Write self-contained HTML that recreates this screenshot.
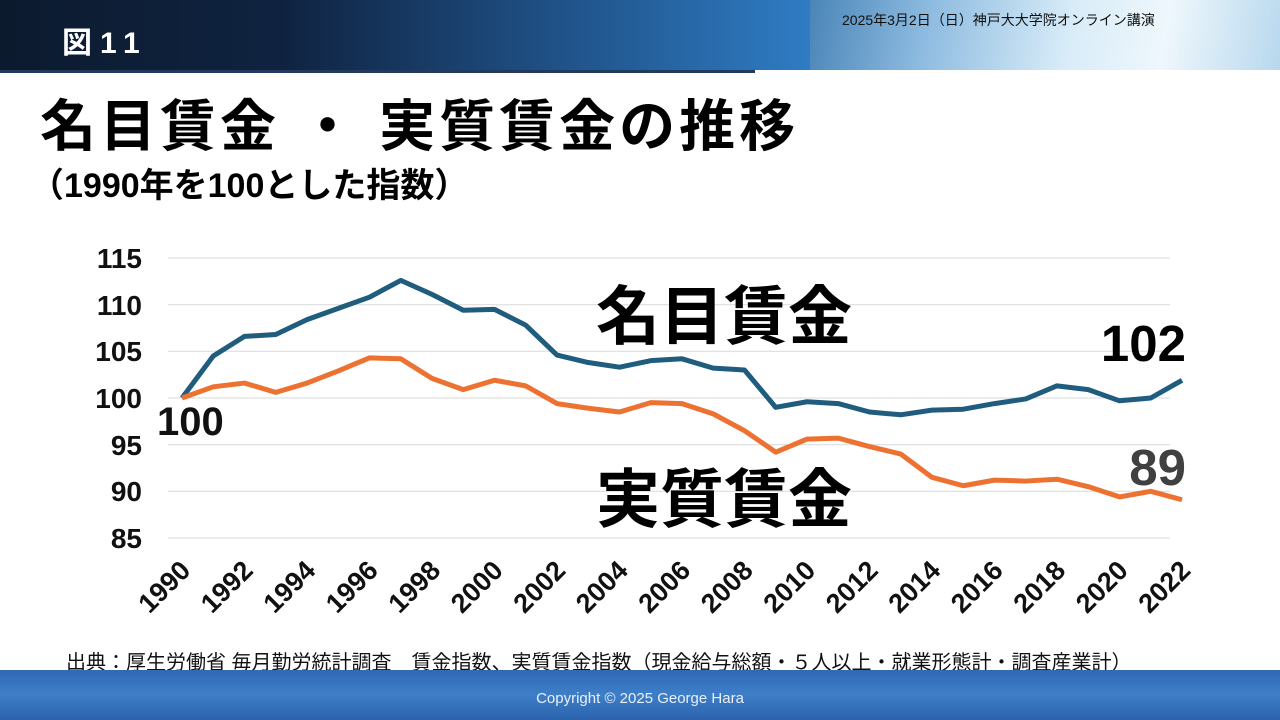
<!DOCTYPE html>
<html><head><meta charset="utf-8"><style>
body{margin:0;width:1280px;height:720px;overflow:hidden;background:#fff;font-family:"Liberation Sans","Noto Sans CJK JP",sans-serif;position:relative}
.hdr{position:absolute;left:0;top:0;width:810px;height:70px;background:linear-gradient(90deg,#0c1a2e 0%,#0f2340 35%,#1e4c80 65%,#2f7cc4 100%)}
.hdr2{position:absolute;left:810px;top:0;width:470px;height:70px;background:linear-gradient(100deg,#4a85b8 0%,#8dbbe0 25%,#d8ecf8 55%,#eef7fc 75%,#b8d8ee 100%)}
.t{position:absolute;font-weight:bold;color:#000;white-space:nowrap}
.foot{position:absolute;left:0;top:670px;width:1280px;height:50px;background:linear-gradient(180deg,#2f69b5,#3f7fc8 50%,#2b62ad)}
</style></head><body>
<div class="hdr"></div><div class="hdr2"></div>
<div style="position:absolute;left:0;top:70px;width:755px;height:3px;background:#223a5c"></div>
<div class="t" style="left:62px;top:18px;font-size:30px;color:#fff;letter-spacing:8px">図11</div>
<div style="position:absolute;left:842px;top:10px;font-size:14px;color:#111">2025年3月2日（日）神戸大大学院オンライン講演</div>
<div class="t" style="left:40px;top:82px;font-size:56px;letter-spacing:4px">名目賃金 ・ 実質賃金の推移</div>
<div class="t" style="left:30px;top:158px;font-size:34px">（1990年を100とした指数）</div>
<svg width="1280" height="720" style="position:absolute;left:0;top:0" font-family="Liberation Sans, Noto Sans CJK JP, sans-serif" font-weight="bold">
<g stroke="#d9d9d9" stroke-width="1">
<line x1="168" x2="1170" y1="258" y2="258"/><line x1="168" x2="1170" y1="304.7" y2="304.7"/><line x1="168" x2="1170" y1="351.3" y2="351.3"/><line x1="168" x2="1170" y1="398" y2="398"/><line x1="168" x2="1170" y1="444.7" y2="444.7"/><line x1="168" x2="1170" y1="491.3" y2="491.3"/><line x1="168" x2="1170" y1="538" y2="538"/>
</g>
<g font-size="28" text-anchor="end" fill="#111">
<text x="142" y="268">115</text><text x="142" y="315">110</text><text x="142" y="361">105</text><text x="142" y="408">100</text><text x="142" y="455">95</text><text x="142" y="501">90</text><text x="142" y="548">85</text>
</g>
<g font-size="27" text-anchor="end" fill="#111">
<text transform="translate(192,572) rotate(-45)">1990</text>
<text transform="translate(254.5,572) rotate(-45)">1992</text>
<text transform="translate(317,572) rotate(-45)">1994</text>
<text transform="translate(379.5,572) rotate(-45)">1996</text>
<text transform="translate(442,572) rotate(-45)">1998</text>
<text transform="translate(504.5,572) rotate(-45)">2000</text>
<text transform="translate(567,572) rotate(-45)">2002</text>
<text transform="translate(629.5,572) rotate(-45)">2004</text>
<text transform="translate(692,572) rotate(-45)">2006</text>
<text transform="translate(754.5,572) rotate(-45)">2008</text>
<text transform="translate(817,572) rotate(-45)">2010</text>
<text transform="translate(879.5,572) rotate(-45)">2012</text>
<text transform="translate(942,572) rotate(-45)">2014</text>
<text transform="translate(1004.5,572) rotate(-45)">2016</text>
<text transform="translate(1067,572) rotate(-45)">2018</text>
<text transform="translate(1129.5,572) rotate(-45)">2020</text>
<text transform="translate(1192,572) rotate(-45)">2022</text>
</g>
<g transform="translate(182,1331.33) scale(31.25,-9.3333)" fill="none" stroke-width="5" stroke-linejoin="round">
<polyline vector-effect="non-scaling-stroke" stroke="#1f5c7e" points="0,100 1,104.5 2,106.6 3,106.8 4,108.4 5,109.6 6,110.8 7,112.6 8,111.1 9,109.4 10,109.5 11,107.8 12,104.6 13,103.8 14,103.3 15,104 16,104.2 17,103.2 18,103 19,99 20,99.6 21,99.4 22,98.5 23,98.2 24,98.7 25,98.8 26,99.4 27,99.9 28,101.3 29,100.9 30,99.7 31,100 32,101.9"/>
<polyline vector-effect="non-scaling-stroke" stroke="#ed7232" points="0,100 1,101.2 2,101.6 3,100.6 4,101.6 5,102.9 6,104.3 7,104.2 8,102.1 9,100.9 10,101.9 11,101.3 12,99.4 13,98.9 14,98.5 15,99.5 16,99.4 17,98.3 18,96.5 19,94.2 20,95.6 21,95.7 22,94.8 23,94 24,91.5 25,90.6 26,91.2 27,91.1 28,91.3 29,90.5 30,89.4 31,90 32,89.1"/>
</g>
<text x="157" y="435" font-size="40" fill="#111">100</text>
<text x="1186" y="361" font-size="51" text-anchor="end" fill="#000">102</text>
<text x="1186" y="485" font-size="51" text-anchor="end" fill="#404040">89</text>
<text x="596" y="339" font-size="64" fill="#000">名目賃金</text>
<text x="596" y="522" font-size="64" fill="#000">実質賃金</text>
</svg>
<div style="position:absolute;left:66px;top:646px;font-size:20px;color:#111;white-space:nowrap">出典：厚生労働省 毎月勤労統計調査　賃金指数、実質賃金指数（現金給与総額・５人以上・就業形態計・調査産業計）</div>
<div class="foot"></div>
<div style="position:absolute;left:0;width:1280px;top:690px;text-align:center;font-size:15px;color:#e8f0fa">Copyright © 2025 George Hara</div>
</body></html>
